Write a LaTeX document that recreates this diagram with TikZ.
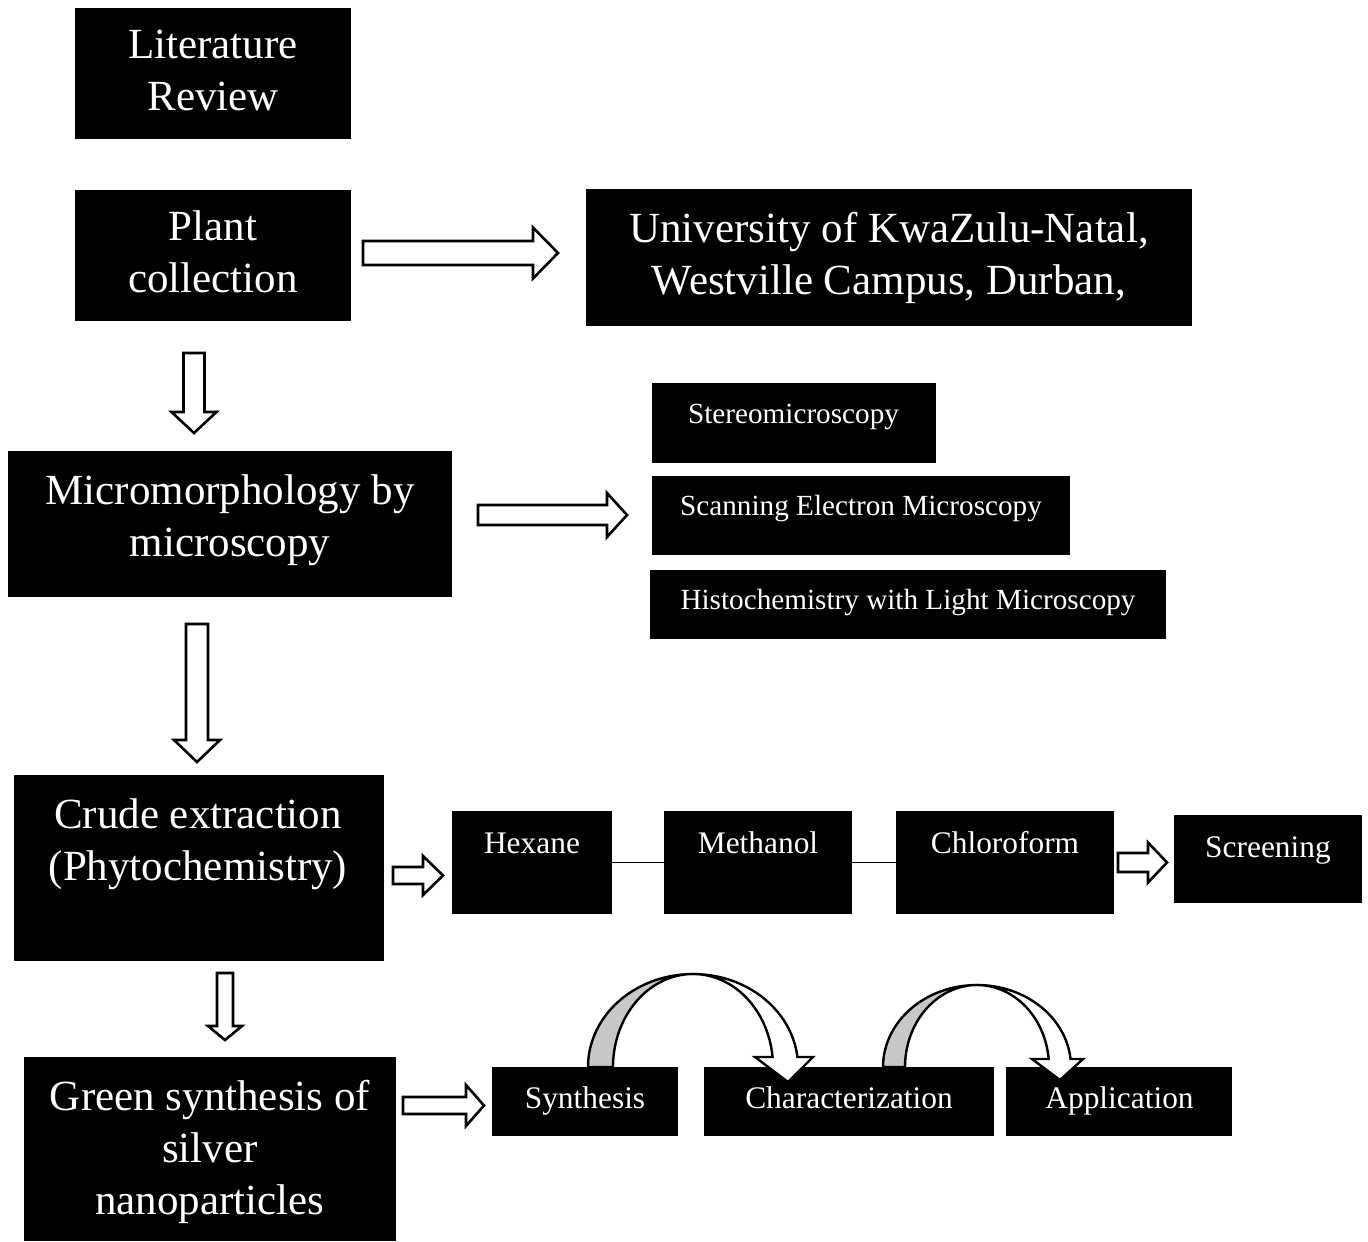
\documentclass[tikz,border=0pt]{standalone}
\usepackage{fontspec}
\setmainfont{Liberation Serif}
\definecolor{cgray}{RGB}{200,200,200}
\newcommand\bigf{\fontsize{21.5}{26.2}\selectfont}
\newcommand\medf{\fontsize{15.7}{19}\selectfont}
\newcommand\smf{\fontsize{14.6}{17.5}\selectfont}
\newcommand\bbox[5]{\node[blk,minimum width={(#4-#2)*0.5pt},minimum height={(#5-#3)*0.5pt}] (#1) at ({(#2+#4)/2},{(#3+#5)/2}) {};}
\newcommand\rarr[6]{\draw[barrow] (#1,{#2-#3}) -- (#5,{#2-#3}) -- (#5,{#2-#4}) -- (#6,#2) -- (#5,{#2+#4}) -- (#5,{#2+#3}) -- (#1,{#2+#3}) -- cycle;}
\newcommand\darr[6]{\draw[barrow] ({#1-#3},#2) -- ({#1+#3},#2) -- ({#1+#3},#5) -- ({#1+#4},#5) -- (#1,#6) -- ({#1-#4},#5) -- ({#1-#3},#5) -- cycle;}
\begin{document}
\begin{tikzpicture}[x=0.5pt,y=-0.5pt,
  blk/.style={fill=black,draw=none,inner sep=0pt,outer sep=0pt},
  txt/.style={text=white,inner sep=0pt,align=center},
  barrow/.style={draw=black,fill=white,line width=1.3pt,line join=miter},
  curv/.style={draw=black,line width=1.2pt,line join=miter},
  link/.style={draw=black,line width=0.7pt}]
\useasboundingbox (0,0) rectangle (1368,1241);
% boxes
\bbox{lit}{75}{8}{351}{139}
\bbox{plant}{75}{190}{351}{321}
\bbox{ukzn}{586}{189}{1192}{326}
\bbox{micro}{8}{451}{452}{597}
\bbox{stereo}{652}{383}{936}{463}
\bbox{sem}{652}{476}{1070}{555}
\bbox{histo}{650}{570}{1166}{639}
\bbox{crude}{14}{775}{384}{961}
\bbox{hex}{452}{811}{612}{914}
\bbox{meth}{664}{811}{852}{914}
\bbox{chl}{896}{811}{1114}{914}
\bbox{scr}{1174}{815}{1362}{903}
\bbox{green}{24}{1057}{396}{1241}
\bbox{syn}{492}{1067}{678}{1136}
\bbox{char}{704}{1067}{994}{1136}
\bbox{app}{1006}{1067}{1232}{1136}
% texts
\node[txt,font=\bigf] (litT) at (213,74) {\strut Literature\\\strut Review};
\node[txt,font=\bigf] (plantT) at (213,256) {\strut Plant\\\strut collection};
\node[txt,font=\bigf] (ukznT) at (889,258) {\strut University of KwaZulu-Natal,\\\strut Westville Campus, Durban,};
\node[txt,font=\bigf] (microT) at (230,520) {\strut Micromorphology by\\\strut microscopy};
\node[txt,font=\bigf] (crudeT) at (198,844) {\strut Crude extraction\\\strut (Phytochemistry)};
\node[txt,font=\bigf] (greenT) at (210,1152) {\strut Green synthesis of\\\strut silver\\\strut nanoparticles};
\node[txt,font=\smf] (stereoT) at (793.5,416) {\strut Stereomicroscopy};
\node[txt,font=\smf] (semT) at (861,508) {\strut Scanning Electron Microscopy};
\node[txt,font=\smf] (histoT) at (908,602) {\strut Histochemistry with Light Microscopy};
\node[txt,font=\medf] (hexT) at (532,846) {\strut Hexane};
\node[txt,font=\medf] (methT) at (758,846) {\strut Methanol};
\node[txt,font=\medf] (chlT) at (1005,846) {\strut Chloroform};
\node[txt,font=\medf] (scrT) at (1268,850) {\strut Screening};
\node[txt,font=\medf] (synT) at (585,1101) {\strut Synthesis};
\node[txt,font=\medf] (charT) at (849,1101) {\strut Characterization};
\node[txt,font=\medf] (appT) at (1119.5,1101) {\strut Application};
% links
\draw[link] (hex.east) -- (meth.west);
\draw[link] (meth.east) -- (chl.west);
% block arrows
\rarr{363}{253}{12}{25.5}{533}{558}
\rarr{478}{515}{10}{22}{607}{627}
\rarr{393}{875.5}{8.5}{19.5}{423}{443}
\rarr{1118}{862.5}{9.5}{20}{1148}{1167}
\rarr{403}{1105.5}{8.5}{20.5}{466}{484}
\darr{194}{353}{10.5}{22.5}{412}{433}
\darr{197}{624}{11}{23}{740}{762}
\darr{225}{973}{8}{17}{1026}{1040}
% curved arrow 1
\filldraw[curv,fill=cgray] plot[variable=\t,domain=180:90,samples=40,smooth] ({693+105*cos(\t)},{1067-93*sin(\t)})
  -- plot[variable=\t,domain=90:180,samples=40,smooth] ({693+80*cos(\t)},{1067-93*sin(\t)}) -- cycle;
\filldraw[curv,fill=white] plot[variable=\t,domain=90:6.17,samples=40,smooth] ({693+105*cos(\t)},{1067-93*sin(\t)})
  -- (813,1057) -- (788,1082) -- (755,1057)
  -- plot[variable=\t,domain=6.17:90,samples=40,smooth] ({693+80*cos(\t)},{1067-93*sin(\t)}) -- cycle;
% curved arrow 2
\filldraw[curv,fill=cgray] plot[variable=\t,domain=180:90,samples=40,smooth] ({977+94*cos(\t)},{1067-82*sin(\t)})
  -- plot[variable=\t,domain=90:180,samples=40,smooth] ({977+72*cos(\t)},{1067-82*sin(\t)}) -- cycle;
\filldraw[curv,fill=white] plot[variable=\t,domain=90:5.6,samples=40,smooth] ({977+94*cos(\t)},{1067-82*sin(\t)})
  -- (1083,1059) -- (1060,1080) -- (1032,1059)
  -- plot[variable=\t,domain=5.6:90,samples=40,smooth] ({977+72*cos(\t)},{1067-82*sin(\t)}) -- cycle;
\end{tikzpicture}
\end{document}
